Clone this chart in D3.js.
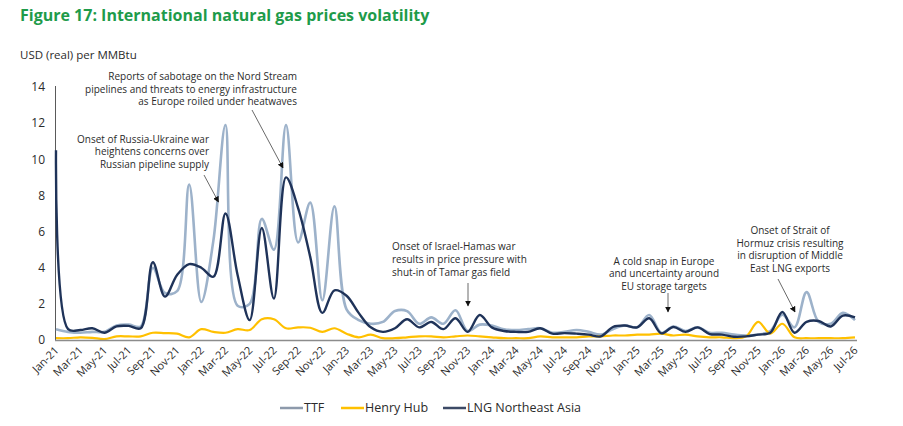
<!DOCTYPE html>
<html>
<head>
<meta charset="utf-8">
<script src="https://cdn.jsdelivr.net/npm/d3@7"></script>
<style>
  body { margin: 0; background: #fff; }
  svg { font-family: "Open Sans", sans-serif; }
  .title { font-weight: 700; fill: #1e9b4a; }
  .tick text { fill: #2b2b2b; }
  .note { font-size: 10px; fill: #2b2b2b; }
</style>
</head>
<body>
<svg id="chart" width="903" height="426"></svg>
<script>
// monthly categories
const months = [
  'Jan-21','Feb-21','Mar-21','Apr-21','May-21','Jun-21','Jul-21','Aug-21','Sep-21','Oct-21','Nov-21','Dec-21',
  'Jan-22','Feb-22','Mar-22','Apr-22','May-22','Jun-22','Jul-22','Aug-22','Sep-22','Oct-22','Nov-22','Dec-22',
  'Jan-23','Feb-23','Mar-23','Apr-23','May-23','Jun-23','Jul-23','Aug-23','Sep-23','Oct-23','Nov-23','Dec-23',
  'Jan-24','Feb-24','Mar-24','Apr-24','May-24','Jun-24','Jul-24','Aug-24','Sep-24','Oct-24','Nov-24','Dec-24',
  'Jan-25','Feb-25','Mar-25','Apr-25','May-25','Jun-25','Jul-25','Aug-25','Sep-25','Oct-25','Nov-25','Dec-25',
  'Jan-26','Feb-26','Mar-26','Apr-26','May-26','Jun-26','Jul-26'
];

const ttf = [
  0.6, 0.45, 0.4, 0.45, 0.45, 0.8, 0.85, 0.75, 4.0, 2.6, 2.7, 8.6,
  2.1, 5.5, 11.9, 1.9, 2.0, 6.7, 5.0, 11.9, 5.4, 7.6, 2.2, 7.4,
  1.7, 1.1, 0.9, 1.0, 1.6, 1.6, 0.9, 1.25, 0.9, 1.65, 0.5, 0.85,
  0.8, 0.6, 0.55, 0.6, 0.65, 0.4, 0.45, 0.55, 0.45, 0.3, 0.6, 0.8,
  0.7, 1.38, 0.4, 0.75, 0.5, 0.7, 0.4, 0.4, 0.3, 0.25, 0.3, 0.5,
  1.4, 0.7, 2.65, 1.0, 0.9, 1.5, 1.1
];

const henryHub = [
  0.1, 0.1, 0.15, 0.12, 0.05, 0.2, 0.2, 0.2, 0.4, 0.38, 0.35, 0.15,
  0.6, 0.45, 0.4, 0.6, 0.55, 1.15, 1.15, 0.65, 0.7, 0.68, 0.45, 0.65,
  0.35, 0.15, 0.3, 0.1, 0.1, 0.15, 0.2, 0.2, 0.15, 0.2, 0.25, 0.2,
  0.15, 0.1, 0.1, 0.1, 0.2, 0.15, 0.15, 0.15, 0.2, 0.2, 0.25, 0.25,
  0.3, 0.3, 0.35, 0.25, 0.3, 0.2, 0.15, 0.15, 0.1, 0.2, 1.0, 0.35,
  0.9, 0.15, 0.1, 0.1, 0.1, 0.1, 0.15
];

const lngNEAsia = [
  10.5, 0.6, 0.55, 0.65, 0.4, 0.75, 0.78, 0.65, 4.3, 2.4, 3.6, 4.2,
  4.0, 3.5, 7.0, 3.6, 1.1, 6.2, 2.3, 9.0, 7.3, 4.6, 1.5, 2.75,
  2.45, 1.5, 0.7, 0.45, 0.65, 1.15, 0.7, 1.0, 0.6, 1.2, 0.45, 1.38,
  0.7, 0.5, 0.45, 0.45, 0.65, 0.35, 0.38, 0.35, 0.3, 0.2, 0.72, 0.8,
  0.7, 1.2, 0.37, 0.72, 0.45, 0.7, 0.33, 0.3, 0.18, 0.2, 0.3, 0.4,
  1.55, 0.4, 1.0, 1.05, 0.75, 1.35, 1.25
];

const tickLabels = months.filter((m, i) => i % 2 === 0);
const yTicks = [0, 2, 4, 6, 8, 10, 12, 14];

const series = [
  { name: 'TTF', values: ttf, color: '#9db2ca', width: 2.6 },
  { name: 'Henry Hub', values: henryHub, color: '#ffc000', width: 2.2 },
  { name: 'LNG Northeast Asia', values: lngNEAsia, color: '#1f3359', width: 2.4 }
];

const svg = d3.select('#chart');

svg.append('text')
    .attr('class', 'title')
    .attr('x', 20)
    .attr('y', 21)
    .attr('font-size', 16)
    .text('Figure 17: International natural gas prices volatility');

svg.append('text')
    .attr('x', 20)
    .attr('y', 59)
    .attr('font-size', 11.5)
    .attr('fill', '#2b2b2b')
    .text('USD (real) per MMBtu');

const xScale = d3.scalePoint()
    .domain(months)
    .range([56, 855]);

const yScale = d3.scaleLinear()
    .domain([0, 14])
    .range([340, 87]);

// y axis
const yAxis = d3.axisLeft(yScale)
    .tickValues(yTicks)
    .tickSize(0)
    .tickPadding(10);

svg.append('g')
    .attr('transform', 'translate(55,0)')
    .call(yAxis)
    .call(g => g.select('.domain').remove())
    .selectAll('text')
    .attr('font-size', 12)
    .attr('font-family', '"Open Sans", sans-serif');

svg.append('line')
    .attr('x1', 55.5).attr('x2', 55.5)
    .attr('y1', yScale(14) - 1).attr('y2', yScale(0))
    .attr('stroke', '#5a5a5a')
    .attr('stroke-width', 1);

// x axis
const xAxis = d3.axisBottom(xScale)
    .tickValues(tickLabels)
    .tickSize(0);

svg.append('g')
    .attr('transform', `translate(0,${yScale(0)})`)
    .call(xAxis)
    .call(g => g.select('.domain').remove())
    .selectAll('text')
    .attr('font-size', 11)
    .attr('font-family', '"Open Sans", sans-serif')
    .attr('text-anchor', 'end')
    .attr('dy', null)
    .attr('y', 0)
    .attr('transform', 'translate(3,11) rotate(-45)');

// lines
const line = d3.line()
    .x((d, i) => xScale(months[i]))
    .y(d => yScale(d))
    .curve(d3.curveCatmullRom.alpha(0.5));

series.forEach(s => {
    svg.append('path')
        .datum(s.values)
        .attr('fill', 'none')
        .attr('stroke', s.color)
        .attr('stroke-width', s.width)
        .attr('stroke-linejoin', 'round')
        .attr('d', line);
});

svg.append('line')
    .attr('x1', 55).attr('x2', 857)
    .attr('y1', yScale(0) + 0.5).attr('y2', yScale(0) + 0.5)
    .attr('stroke', '#8c8c8c')
    .attr('stroke-width', 1.5);

// arrow marker
svg.append('defs').append('marker')
    .attr('id', 'arrow')
    .attr('viewBox', '0 0 10 10')
    .attr('refX', 9).attr('refY', 5)
    .attr('markerWidth', 6).attr('markerHeight', 6)
    .attr('markerUnits', 'userSpaceOnUse')
    .attr('orient', 'auto')
    .append('path')
    .attr('d', 'M0,0 L10,5 L0,10 z')
    .attr('fill', '#111');

function note(lines, x, y, anchor, step) {
    const t = svg.append('text')
        .attr('class', 'note')
        .attr('text-anchor', anchor);
    lines.forEach((l, i) => {
        t.append('tspan').attr('x', x).attr('y', y + i * step).text(l);
    });
}

function arrow(x1, y1, x2, y2) {
    svg.append('line')
        .attr('x1', x1).attr('y1', y1)
        .attr('x2', x2).attr('y2', y2)
        .attr('stroke', '#444')
        .attr('stroke-width', 0.8)
        .attr('marker-end', 'url(#arrow)');
}

note(['Reports of sabotage on the Nord Stream',
      'pipelines and threats to energy infrastructure',
      'as Europe roiled under heatwaves'], 297, 80, 'end', 12.5);
arrow(252, 110, xScale('Aug-22') - 3, 168);

note(['Onset of Russia-Ukraine war',
      'heightens concerns over',
      'Russian pipeline supply'], 209, 143, 'end', 12.3);
arrow(204, 175, xScale('Mar-22') - 7, 202);

note(['Onset of Israel-Hamas war',
      'results in price pressure with',
      'shut-in of Tamar gas field'], 392, 250, 'start', 12.8);
arrow(468, 283, 468, 306);

note(['A cold snap in Europe',
      'and uncertainty around',
      'EU storage targets'], 664, 265, 'middle', 12.3);
arrow(668, 293, 668, 312);

note(['Onset of Strait of',
      'Hormuz crisis resulting',
      'in disruption of Middle',
      'East LNG exports'], 790, 234, 'middle', 12.5);
arrow(778, 279, 795, 312);

// legend
const legend = svg.append('g').attr('font-size', 12.5).attr('fill', '#2b2b2b');
const legendX = [280, 341, 443];
series.forEach((s, i) => {
    legend.append('line')
        .attr('x1', legendX[i]).attr('x2', legendX[i] + 23)
        .attr('y1', 408).attr('y2', 408)
        .attr('stroke', i === 0 ? '#8d9aab' : i === 2 ? '#3c4a66' : s.color)
        .attr('stroke-width', 2.5);
    legend.append('text')
        .attr('x', legendX[i] + 24)
        .attr('y', 412)
        .text(s.name);
});
</script>
</body>
</html>
